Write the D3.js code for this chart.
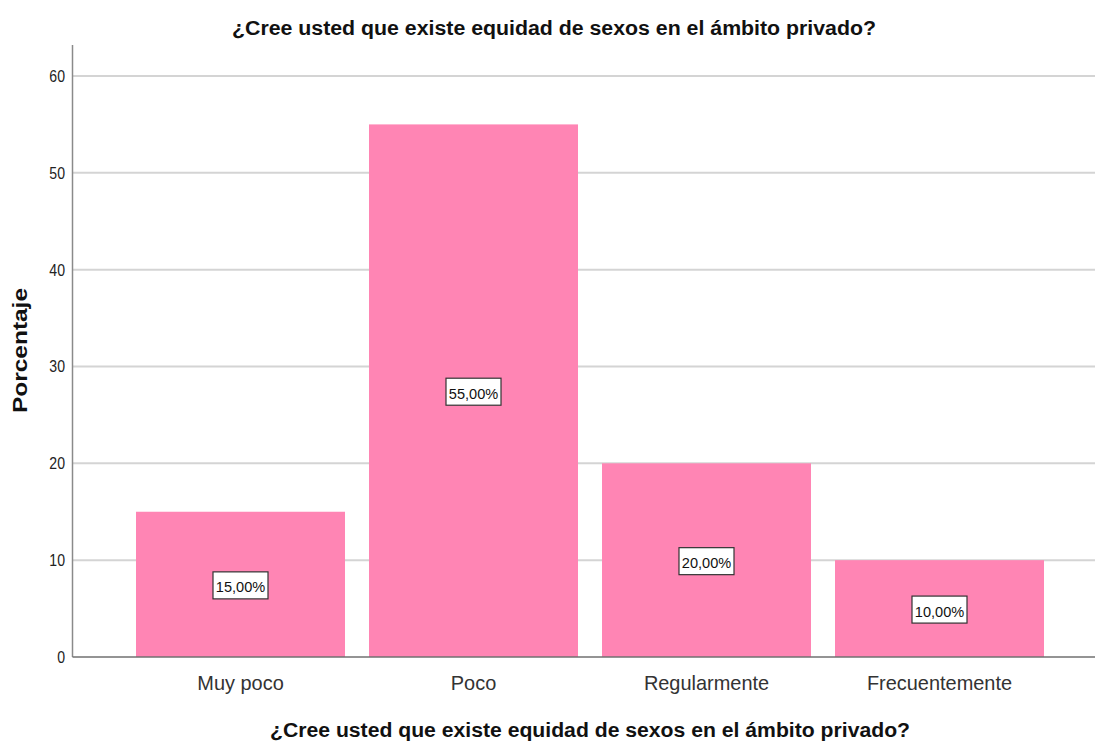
<!DOCTYPE html>
<html>
<head>
<meta charset="utf-8">
<style>
  body { margin: 0; background: #fff; }
  text { font-family: Arial, "Liberation Sans", sans-serif; }
</style>
</head>
<body>
<svg id="chart" width="1095" height="744" viewBox="0 0 1095 744" xmlns="http://www.w3.org/2000/svg"></svg>
<script src="https://d3js.org/d3.v7.min.js"></script>
<script>
const categories = ["Muy poco", "Poco", "Regularmente", "Frecuentemente"];
const values = [15, 55, 20, 10];
const labels = ["15,00%", "55,00%", "20,00%", "10,00%"];
const yTicks = [0, 10, 20, 30, 40, 50, 60];
const title = "¿Cree usted que existe equidad de sexos en el ámbito privado?";

const width = 1095, height = 744;
const axisX = 72.5, baseY = 657, topY = 45;

const svg = d3.select("#chart");

const y = d3.scaleLinear()
  .domain([0, 63.2])
  .range([baseY, topY]);

const x = d3.scaleBand()
  .domain(categories)
  .range([124, 1056])
  .paddingInner(24 / 233)
  .paddingOuter(12 / 233);

// gridlines
svg.append("g")
  .selectAll("line")
  .data(yTicks.filter(d => d > 0))
  .join("line")
  .attr("x1", axisX)
  .attr("x2", width)
  .attr("y1", d => y(d))
  .attr("y2", d => y(d))
  .attr("stroke", "#d4d4d4")
  .attr("stroke-width", 2);

// bars
svg.append("g")
  .selectAll("rect")
  .data(values)
  .join("rect")
  .attr("x", (d, i) => x(categories[i]))
  .attr("width", x.bandwidth())
  .attr("y", d => y(d))
  .attr("height", d => baseY - y(d))
  .attr("fill", "#ff85b4");

// y axis line
svg.append("line")
  .attr("x1", axisX).attr("x2", axisX)
  .attr("y1", topY).attr("y2", baseY)
  .attr("stroke", "#8a8a8a")
  .attr("stroke-width", 1.5);

// x baseline
svg.append("line")
  .attr("x1", axisX).attr("x2", width)
  .attr("y1", baseY).attr("y2", baseY)
  .attr("stroke", "#707070")
  .attr("stroke-width", 1.5);

// y ticks (text is a bit condensed in the original)
svg.append("g")
  .selectAll("text")
  .data(yTicks)
  .join("text")
  .attr("transform", d => `translate(65,${y(d) + 6}) scale(0.88,1)`)
  .attr("text-anchor", "end")
  .attr("font-size", "16px")
  .attr("fill", "#222")
  .text(d => d);

// x tick labels
svg.append("g")
  .selectAll("text")
  .data(categories)
  .join("text")
  .attr("transform", d => `translate(${x(d) + x.bandwidth() / 2},690) scale(0.95,1)`)
  .attr("text-anchor", "middle")
  .attr("font-size", "21px")
  .attr("fill", "#333")
  .text(d => d);

// value labels
const lab = svg.append("g")
  .selectAll("g")
  .data(values)
  .join("g")
  .attr("transform", (d, i) => `translate(${x(categories[i]) + x.bandwidth() / 2},${(y(d) + baseY) / 2 + 1.5})`);

lab.append("rect")
  .attr("x", -27.5)
  .attr("y", -14)
  .attr("width", 55)
  .attr("height", 27)
  .attr("fill", "#fff")
  .attr("stroke", "#333")
  .attr("stroke-width", 1.2);

lab.append("text")
  .attr("transform", "scale(0.94,1)")
  .attr("text-anchor", "middle")
  .attr("y", 6.5)
  .attr("font-size", "15.5px")
  .attr("fill", "#111")
  .text((d, i) => labels[i]);

// titles
svg.append("text")
  .attr("x", 232)
  .attr("y", 35)
  .attr("textLength", 644)
  .attr("lengthAdjust", "spacingAndGlyphs")
  .attr("font-size", "20px")
  .attr("font-weight", "bold")
  .attr("fill", "#111")
  .text(title);

svg.append("text")
  .attr("x", 270)
  .attr("y", 737)
  .attr("textLength", 640)
  .attr("lengthAdjust", "spacingAndGlyphs")
  .attr("font-size", "20px")
  .attr("font-weight", "bold")
  .attr("fill", "#111")
  .text(title);

svg.append("text")
  .attr("transform", "translate(27,413) rotate(-90)")
  .attr("textLength", 125)
  .attr("lengthAdjust", "spacingAndGlyphs")
  .attr("font-size", "20px")
  .attr("font-weight", "bold")
  .attr("fill", "#111")
  .text("Porcentaje");
</script>
</body>
</html>
